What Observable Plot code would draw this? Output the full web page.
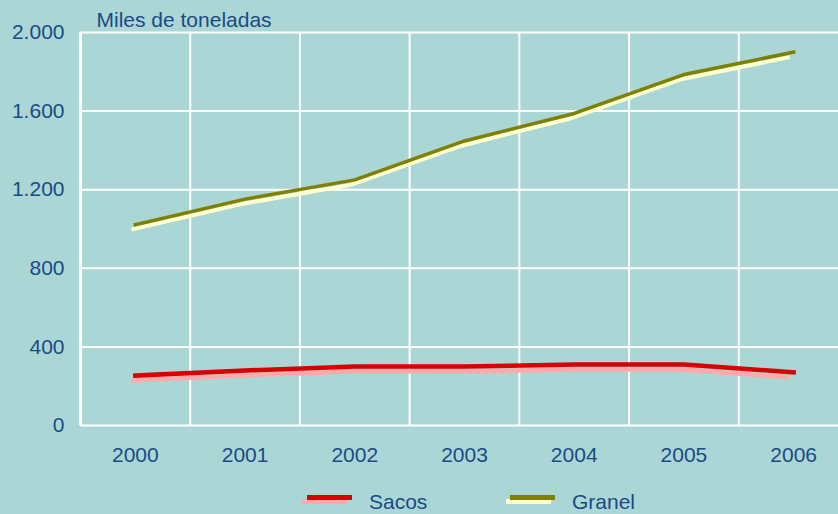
<!DOCTYPE html>
<html>
<head>
<meta charset="utf-8">
<script src="https://cdn.jsdelivr.net/npm/d3@7"></script>
<script src="https://cdn.jsdelivr.net/npm/@observablehq/plot@0.6"></script>
<style>
  html, body { margin: 0; padding: 0; background: #aad7d5; }
  body { width: 838px; height: 514px; overflow: hidden; font-family: "Liberation Sans", Arial, sans-serif; }
  #legend { position: relative; height: 34px; color: #1b4a85; font-size: 21px; }
  .sw { position: absolute; width: 45px; height: 5px; }
  .lab { position: absolute; top: 10px; line-height: 24px; }
</style>
</head>
<body>
<div id="chart"></div>
<div id="legend">
  <div class="sw" style="left:302px;top:19px;background:#ffaaaa"></div>
  <div class="sw" style="left:307px;top:15px;background:#d90000"></div>
  <div class="lab" style="left:369px">Sacos</div>
  <div class="sw" style="left:506px;top:19px;background:#ffffd0"></div>
  <div class="sw" style="left:510px;top:15px;background:#7f7f00"></div>
  <div class="lab" style="left:572px">Granel</div>
</div>
<script>
const years = [2000, 2001, 2002, 2003, 2004, 2005, 2006];
const sacos = [254, 280, 300, 300, 310, 310, 271];
const granel = [1022, 1152, 1250, 1448, 1588, 1786, 1900];
const yTicks = [0, 400, 800, 1200, 1600, 2000];
const yTickLabels = ["0", "400", "800", "1.200", "1.600", "2.000"];

const sacosData = years.map((y, i) => ({year: y, value: sacos[i]}));
const granelData = years.map((y, i) => ({year: y, value: granel[i]}));
const gridX = d3.range(years.length + 1).map(i => years[0] - 0.5 + i);

const textColor = "#1b4a85";
const fs = 21;

const chart = Plot.plot({
  width: 838,
  height: 480,
  marginLeft: 80,
  marginRight: 0,
  marginTop: 32,
  marginBottom: 55,
  style: {background: "transparent", fontFamily: "'Liberation Sans', Arial, sans-serif", fontSize: fs + "px", color: textColor, overflow: "visible"},
  x: {domain: [years[0] - 0.5, years[years.length - 1] + 0.5], range: [80, 848], axis: null},
  y: {domain: [0, 2000], axis: null},
  marks: [
    Plot.ruleY(yTicks, {y: d => d, stroke: "white", strokeWidth: 2}),
    Plot.ruleX(gridX, {x: d => d, stroke: "white", strokeWidth: 2}),
    Plot.ruleX([gridX[0]], {x: d => d, stroke: "white", strokeWidth: 3}),
    Plot.text(yTicks, {x: gridX[0], y: d => d, text: (d, i) => yTickLabels[i], textAnchor: "end", dx: -16, fill: textColor, fontSize: fs}),
    Plot.text(years, {x: d => d, y: 0, text: d => String(d), dy: 30, fill: textColor, fontSize: fs}),
    Plot.text(["Miles de toneladas"], {frameAnchor: "top-left", dx: 16, dy: -12, textAnchor: "start", lineAnchor: "middle", fill: textColor, fontSize: fs}),
    Plot.line(granelData, {x: "year", y: "value", stroke: "#ffffd0", strokeWidth: 4, dx: -4, dy: 5, strokeLinecap: "butt"}),
    Plot.line(granelData, {x: "year", y: "value", stroke: "#7f7f00", strokeWidth: 3.5, strokeLinecap: "square"}),
    Plot.line(sacosData, {x: "year", y: "value", stroke: "#ffaaaa", strokeWidth: 4.5, dx: -4, dy: 5, strokeLinecap: "butt"}),
    Plot.line(sacosData, {x: "year", y: "value", stroke: "#d90000", strokeWidth: 4.5, strokeLinecap: "square"})
  ]
});
document.getElementById("chart").appendChild(chart);
</script>
</body>
</html>
